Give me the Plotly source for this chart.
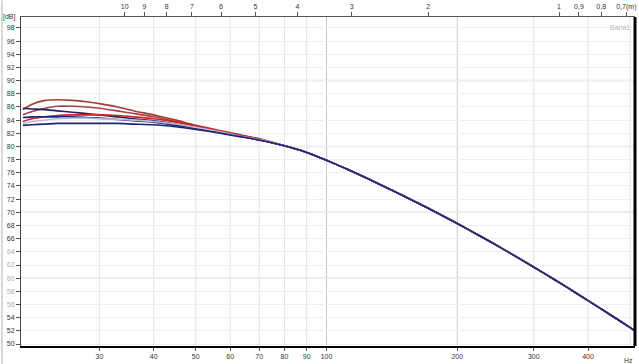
import math
import plotly.graph_objects as go

# ---- data ----
freq_low = [20, 21, 22.5, 24, 26, 28, 30, 33, 36, 40, 45, 50, 56, 63, 71]
freq_tail = [80, 90, 100, 112, 125, 140, 160, 180, 200, 225, 250, 280, 315, 355, 400, 450, 500, 515]
db_tail = [80.1, 79.1, 77.9, 76.5, 75.05, 73.5, 71.6, 69.9, 68.3, 66.45, 64.75, 62.85, 60.85, 58.75, 56.6, 54.45, 52.5, 51.95]

series_names = ["A", "B", "C", "D", "E", "F", "G"]
series_low = {
    "A": [85.6, 86.4, 87.0, 87.1, 87.0, 86.8, 86.5, 86.0, 85.4, 84.8, 84.0, 83.2, 82.5, 81.8, 81.1],
    "B": [84.8, 85.3, 85.8, 86.1, 86.1, 86.0, 85.8, 85.4, 85.0, 84.5, 83.8, 83.1, 82.4, 81.7, 81.0],
    "C": [85.8, 85.7, 85.6, 85.4, 85.2, 85.0, 84.8, 84.5, 84.2, 83.9, 83.4, 82.8, 82.2, 81.6, 80.9],
    "D": [83.8, 84.2, 84.5, 84.7, 84.8, 84.8, 84.8, 84.7, 84.5, 84.2, 83.7, 83.1, 82.4, 81.7, 81.0],
    "E": [84.4, 84.5, 84.5, 84.5, 84.5, 84.4, 84.3, 84.1, 83.9, 83.7, 83.2, 82.8, 82.2, 81.6, 80.9],
    "F": [83.5, 83.8, 84.0, 84.2, 84.3, 84.3, 84.2, 84.1, 84.0, 83.8, 83.4, 82.9, 82.3, 81.6, 81.0],
    "G": [83.2, 83.3, 83.4, 83.5, 83.5, 83.5, 83.5, 83.5, 83.4, 83.3, 83.0, 82.6, 82.1, 81.5, 80.9],
}
series_colors = {
    "A": "#a63c35", "B": "#a04545", "C": "#1e2060", "D": "#cc2222",
    "E": "#23246e", "F": "#c0b6dc", "G": "#1c2470",
}

x_ticks = [30, 40, 50, 60, 70, 80, 90, 100, 200, 300, 400]
x_grid = [30, 40, 50, 60, 70, 80, 90, 100, 200, 300, 400, 500]
y_ticks = list(range(50, 100, 2))
y_faded = [56, 58, 60, 62, 64]
y_major = [60, 70, 80, 90]
wavelengths = [10, 9, 8, 7, 6, 5, 4, 3, 2, 1, 0.9, 0.8, 0.7]
wavelength_labels = ["10", "9", "8", "7", "6", "5", "4", "3", "2", "1", "0,9", "0,8", "0,7(m)"]
speed_of_sound = 343.0

# ---- figure ----
fig = go.Figure()
freqs = freq_low + freq_tail
for name in series_names:
    fig.add_trace(go.Scatter(
        x=freqs, y=series_low[name] + db_tail, mode="lines",
        line=dict(color=series_colors[name], width=1.6, shape="spline", smoothing=0.5),
        showlegend=False, hoverinfo="skip"))

# invisible trace to anchor top axis
fig.add_trace(go.Scatter(x=freq_tail, y=db_tail, xaxis="x2", mode="lines",
                         opacity=0, showlegend=False, hoverinfo="skip"))

font = dict(family="Liberation Sans, Arial", size=7, color="#333333")
ytext = [f'<span style="color:#b0b0b0">{v}</span>' if v in y_faded else str(v) for v in y_ticks]

xrange_log = [math.log10(19.8), math.log10(513)]
fig.update_layout(
    width=639, height=364,
    margin=dict(l=21, r=3, t=15, b=18),
    paper_bgcolor="white", plot_bgcolor="white",
    font=font,
    xaxis=dict(type="log", range=xrange_log,
               tickvals=x_ticks, ticktext=[str(v) for v in x_ticks],
               showgrid=False, zeroline=False,
               showline=True, linecolor="black", linewidth=2,
               ticks="outside", ticklen=3, tickcolor="#555", tickfont=font),
    xaxis2=dict(type="log", range=xrange_log,
                overlaying="x", side="top",
                tickvals=[speed_of_sound / w for w in wavelengths], ticktext=wavelength_labels,
                showgrid=False, zeroline=False,
                showline=True, linecolor="#555", linewidth=1,
                ticks="outside", ticklen=4, tickcolor="#555", tickfont=font),
    yaxis=dict(range=[49.7, 99.66], tickvals=y_ticks, ticktext=ytext,
               showgrid=True, gridcolor="#efefef", gridwidth=1, zeroline=False,
               showline=True, linecolor="#444", linewidth=1,
               ticks="outside", ticklen=4, tickcolor="#555", tickfont=font),
)

shapes = []
for g in x_grid:
    shapes.append(dict(type="line", xref="x", yref="paper", x0=g, x1=g, y0=0, y1=1,
                       line=dict(color="#c8c8c8" if g in (100, 200) else "#e4e4e4", width=1),
                       layer="below"))
for g in y_major:
    shapes.append(dict(type="line", xref="paper", yref="y", x0=0, x1=1, y0=g, y1=g,
                       line=dict(color="#dadada", width=1.5), layer="below"))
shapes.append(dict(type="line", xref="paper", yref="paper", x0=1, x1=1, y0=0, y1=1,
                   line=dict(color="black", width=3)))
shapes.append(dict(type="line", xref="paper", yref="paper", x0=-0.031, x1=-0.031, y0=-0.06, y1=1.05,
                   line=dict(color="#d8d8d8", width=2)))
fig.update_layout(shapes=shapes)

fig.add_annotation(text="[dB]", xref="paper", yref="paper", x=-0.032, y=1.0,
                   xanchor="left", yanchor="middle", showarrow=False, font=font)
fig.add_annotation(text="Hz", xref="paper", yref="paper", x=0.99, y=-0.028,
                   xanchor="center", yanchor="top", showarrow=False, font=font)
fig.add_annotation(text="Barla1", xref="paper", yref="paper", x=0.995, y=0.985,
                   xanchor="right", yanchor="top", showarrow=False,
                   font=dict(family="Liberation Sans, Arial", size=7, color="#b8b8b8"))

fig.write_html("out.html")
